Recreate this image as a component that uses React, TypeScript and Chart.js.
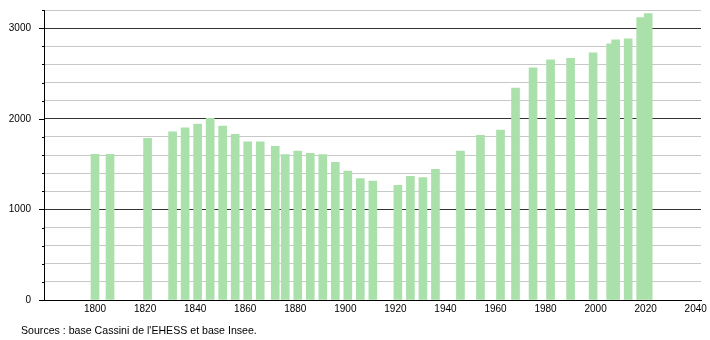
import React, { useEffect, useRef } from "react";
import { Chart, registerables } from "chart.js";

Chart.register(...registerables);

const years = [
  1800, 1806, 1821, 1831, 1836, 1841, 1846, 1851, 1856, 1861, 1866, 1872, 1876, 1881, 1886, 1891,
  1896, 1901, 1906, 1911, 1921, 1926, 1931, 1936, 1946, 1954, 1962, 1968, 1975, 1982, 1990, 1999,
  2006, 2008, 2013, 2018, 2021,
];
const population = [
  1607, 1607, 1785, 1855, 1899, 1940, 2005, 1918, 1829, 1744, 1744, 1696, 1604, 1644, 1619, 1604,
  1519, 1422, 1341, 1312, 1264, 1364, 1352, 1441, 1644, 1818, 1874, 2339, 2561, 2650, 2668, 2727,
  2827, 2871, 2882, 3115, 3160,
];
const xTickYears = [1800, 1820, 1840, 1860, 1880, 1900, 1920, 1940, 1960, 1980, 2000, 2020, 2040];
const yLabelValues = [0, 1000, 2000, 3000];
const sourceText = "Sources : base Cassini de l'EHESS et base Insee.";

const FONT = "'Liberation Sans', Arial, sans-serif";

const yTickMarks = {
  id: "yTickMarks",
  afterDraw(chart: any) {
    const { ctx, chartArea } = chart;
    const y = chart.scales.y;
    ctx.save();
    ctx.strokeStyle = "#000";
    ctx.lineWidth = 1;
    for (let v = 0; v <= 3200; v += 200) {
      const py = Math.round(y.getPixelForValue(v)) + 0.5;
      const len = v % 1000 === 0 ? 5 : 2;
      ctx.beginPath();
      ctx.moveTo(chartArea.left - len, py);
      ctx.lineTo(chartArea.left, py);
      ctx.stroke();
    }
    ctx.restore();
  },
};

export default function App() {
  const canvasRef = useRef<HTMLCanvasElement | null>(null);

  useEffect(() => {
    const canvas = canvasRef.current;
    if (!canvas) return;
    const chart = new Chart(canvas, {
      type: "bar",
      data: {
        datasets: [
          {
            data: years.map((yr, i) => ({ x: yr, y: population[i] })),
            backgroundColor: "rgb(170, 224, 170)",
            borderWidth: 0,
            barThickness: 8,
          },
        ],
      },
      options: {
        animation: false,
        responsive: false,
        maintainAspectRatio: false,
        layout: { padding: { top: 10, right: 9, bottom: 0, left: 0 } },
        plugins: { legend: { display: false }, tooltip: { enabled: false } },
        scales: {
          x: {
            type: "linear",
            offset: false,
            min: 1779.62,
            max: 2042.1,
            grid: { display: false, drawTicks: false, offset: false },
            border: { display: true, color: "#000", width: 1 },
            afterBuildTicks: (scale: any) => {
              scale.ticks = xTickYears.map((v) => ({ value: v }));
            },
            afterFit: (scale: any) => {
              scale.height = 40;
              scale.paddingLeft = 0;
              scale.paddingRight = 0;
            },
            ticks: {
              autoSkip: false,
              maxRotation: 0,
              padding: 3,
              color: "#000",
              font: { family: FONT, size: 10 },
              callback: (v: any) => String(v),
            },
          },
          y: {
            min: 0,
            max: 3200,
            afterBuildTicks: (scale: any) => {
              const t: any[] = [];
              for (let v = 0; v <= 3200; v += 200) t.push({ value: v });
              scale.ticks = t;
            },
            afterFit: (scale: any) => {
              scale.width = 44;
              scale.paddingTop = 0;
              scale.paddingBottom = 0;
            },
            grid: {
              drawTicks: false,
              color: (ctx: any) =>
                ctx.tick && ctx.tick.value % 1000 === 0 ? "#333" : "#c8c8c8",
              lineWidth: 1,
            },
            border: { display: true, color: "#000", width: 1 },
            ticks: {
              autoSkip: false,
              padding: 13,
              color: "#000",
              font: { family: FONT, size: 10 },
              callback: (v: any) => (yLabelValues.includes(Number(v)) ? String(v) : ""),
            },
          },
        },
      },
      plugins: [yTickMarks],
    });
    return () => chart.destroy();
  }, []);

  return (
    <div style={{ position: "fixed", left: 0, top: 0, width: 710, height: 340, background: "#fff" }}>
      <canvas ref={canvasRef} width={710} height={340} style={{ display: "block" }} />
      <div
        style={{
          position: "absolute",
          left: 21,
          top: 324,
          fontFamily: FONT,
          fontSize: 10.6,
          lineHeight: "12px",
          color: "#000",
          whiteSpace: "nowrap",
        }}
      >
        {sourceText}
      </div>
    </div>
  );
}
